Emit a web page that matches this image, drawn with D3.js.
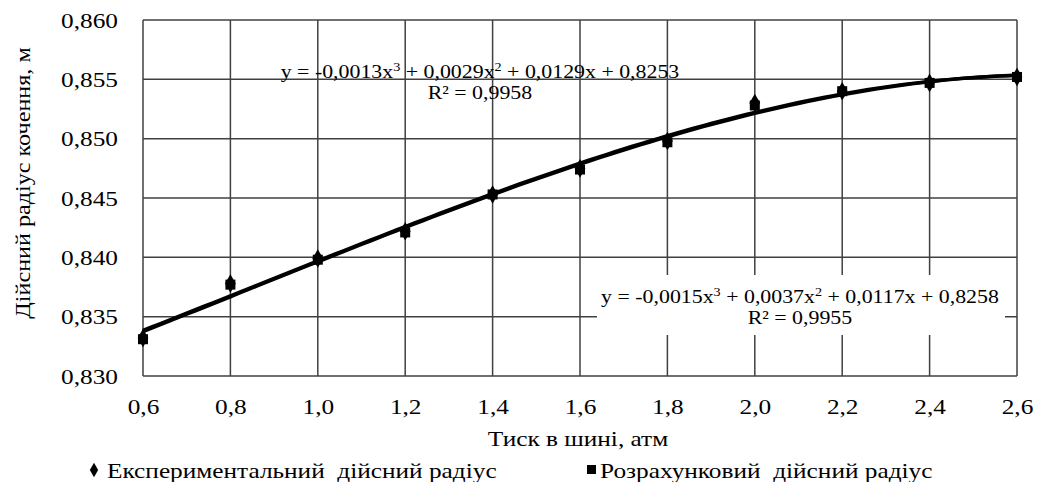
<!DOCTYPE html>
<html lang="uk">
  <head>
    <meta charset="utf-8">
    <title>Дійсний радіус кочення</title>
    <style>
      body { margin: 0; background: #fff; }
      svg text { font-family: "Liberation Serif", "DejaVu Serif", serif; fill: #000; }
    </style>
    <script src="https://cdn.jsdelivr.net/npm/d3@7"></script>
  </head>
  <body>
    <svg id="chart" width="1037" height="482"></svg>
    <script>
// ---- data ----
var pressure = [0.6, 0.8, 1.0, 1.2, 1.4, 1.6, 1.8, 2.0, 2.2, 2.4, 2.6];
var experimental = [0.8332, 0.8378, 0.8399, 0.8422, 0.8453, 0.8475, 0.8498, 0.8530, 0.8540, 0.8547, 0.8552];
var calculated   = [0.8331, 0.8377, 0.8398, 0.8421, 0.8453, 0.8474, 0.8497, 0.8528, 0.8540, 0.8547, 0.8552];
var xTicks = [0.6, 0.8, 1.0, 1.2, 1.4, 1.6, 1.8, 2.0, 2.2, 2.4, 2.6];
var yTicks = [0.830, 0.835, 0.840, 0.845, 0.850, 0.855, 0.860];
var labelExp  = ["y = -0,0013x", "3", " + 0,0029x", "2", " + 0,0129x + 0,8253", "R² = 0,9958"];
var labelCalc = ["y = -0,0015x", "3", " + 0,0037x", "2", " + 0,0117x + 0,8258", "R² = 0,9955"];
var legendNames = ["Експериментальний  дійсний радіус", "Розрахунковий  дійсний радіус"];

var svg = d3.select('#chart');
var m = {left: 143, right: 1017, top: 20, bottom: 376};
var x = d3.scaleLinear().domain([0.6, 2.6]).range([m.left, m.right]);
var y = d3.scaleLinear().domain([0.830, 0.860]).range([m.bottom, m.top]);
var comma = function (f) { return function (d) { return d3.format(f)(d).replace('.', ','); }; };

// grid
svg.append('g').selectAll('line').data(xTicks).enter().append('line')
  .attr('x1', function (d) { return x(d); }).attr('x2', function (d) { return x(d); })
  .attr('y1', m.top).attr('y2', m.bottom)
  .style('stroke', '#404040').style('stroke-width', 1.5);
svg.append('g').selectAll('line').data(yTicks).enter().append('line')
  .attr('y1', function (d) { return y(d); }).attr('y2', function (d) { return y(d); })
  .attr('x1', m.left).attr('x2', m.right)
  .style('stroke', '#404040').style('stroke-width', 1.5);

// axes (labels only)
var xAxis = svg.append('g').attr('transform', 'translate(0,' + m.bottom + ')')
  .call(d3.axisBottom(x).tickValues(xTicks).tickFormat(comma('.1f')).tickSize(0).tickPadding(22));
var yAxis = svg.append('g').attr('transform', 'translate(' + m.left + ',0)')
  .call(d3.axisLeft(y).tickValues(yTicks).tickFormat(comma('.3f')).tickSize(0).tickPadding(25));
[xAxis, yAxis].forEach(function (a) {
  a.select('.domain').remove();
  a.attr('font-family', null);
  a.selectAll('text').style('font-family', '"Liberation Serif", serif').style('font-size', '22px');
});

// cubic least-squares trend line, like the spreadsheet's polynomial trendline
function cubicFit(xv, yv) {
  var n = 4, A = [], i, j, k;
  for (i = 0; i < n; i++) {
    A.push([]);
    for (j = 0; j < n; j++) A[i].push(d3.sum(xv, function (t) { return Math.pow(t, i + j); }));
    A[i].push(d3.sum(xv, function (t, q) { return Math.pow(t, i) * yv[q]; }));
  }
  for (i = 0; i < n; i++) {
    for (k = i + 1; k < n; k++) {
      var r = A[k][i] / A[i][i];
      for (j = i; j <= n; j++) A[k][j] -= r * A[i][j];
    }
  }
  var c = [0, 0, 0, 0];
  for (i = n - 1; i >= 0; i--) {
    var s = A[i][n];
    for (j = i + 1; j < n; j++) s -= A[i][j] * c[j];
    c[i] = s / A[i][i];
  }
  return function (v) { return c[0] + c[1]*v + c[2]*v*v + c[3]*v*v*v; };
}
var xs = d3.range(0, 101).map(function (i) { return 0.6 + i * 0.02; });
[calculated, experimental].forEach(function (ser) {
  var f = cubicFit(pressure, ser);
  svg.append('path').datum(xs)
    .attr('d', d3.line().x(function (d) { return x(d); }).y(function (d) { return y(f(d)); }))
    .style('fill', 'none').style('stroke', '#000').style('stroke-width', 3.4);
});

// markers
svg.append('g').selectAll('path').data(pressure).enter().append('path')
  .attr('transform', function (d, i) { return 'translate(' + x(d) + ',' + y(experimental[i]) + ')'; })
  .attr('d', d3.symbol().type(d3.symbolDiamond).size(100))
  .style('fill', '#000');
svg.append('g').selectAll('rect').data(pressure).enter().append('rect')
  .attr('x', function (d) { return x(d) - 5; })
  .attr('y', function (d, i) { return y(calculated[i]) - 5; })
  .attr('width', 10).attr('height', 10)
  .style('fill', '#000');

// trend labels
function eqLabel(parts, cx, by, size) {
  var t = svg.append('text').attr('x', cx).attr('y', by).attr('text-anchor', 'middle')
    .style('font-size', size + 'px');
  parts.slice(0, 5).forEach(function (p, i) {
    var s = t.append('tspan').text(p);
    if (i === 1 || i === 3) s.attr('dy', -7).style('font-size', (size * 0.65) + 'px');
    if (i === 2 || i === 4) s.attr('dy', 7);
  });
  svg.append('text').attr('x', cx).attr('y', by + 21).attr('text-anchor', 'middle')
    .style('font-size', size + 'px').text(parts[5]);
}
svg.append('rect').attr('x', 597).attr('y', 275).attr('width', 408).attr('height', 60).style('fill', '#fff');
eqLabel(labelExp, 480, 78, 19);
eqLabel(labelCalc, 800, 303, 19);

// axis titles
svg.append('text').attr('x', 578).attr('y', 446).attr('text-anchor', 'middle')
  .style('font-size', '22px').text('Тиск в шині, атм');
svg.append('text').attr('transform', 'translate(30,183) rotate(-90)').attr('text-anchor', 'middle')
  .style('font-size', '21px').text('Дійсний радіус кочення, м');

// legend
var leg = svg.append('g');
leg.append('path').attr('transform', 'translate(94,470)')
  .attr('d', d3.symbol().type(d3.symbolDiamond).size(60)).style('fill', '#000');
leg.append('text').attr('x', 107).attr('y', 478).style('font-size', '22px')
  .attr('xml:space', 'preserve').text(legendNames[0]);
leg.append('rect').attr('x', 587).attr('y', 465).attr('width', 9).attr('height', 9).style('fill', '#000');
leg.append('text').attr('x', 600).attr('y', 478).style('font-size', '22px')
  .attr('xml:space', 'preserve').text(legendNames[1]);

// the source font runs wider than Liberation Serif: stretch glyphs horizontally
svg.selectAll('text').each(function () {
  var w = this.getComputedTextLength();
  d3.select(this).attr('textLength', w * 1.15).attr('lengthAdjust', 'spacingAndGlyphs');
});
    </script>
  </body>
</html>
